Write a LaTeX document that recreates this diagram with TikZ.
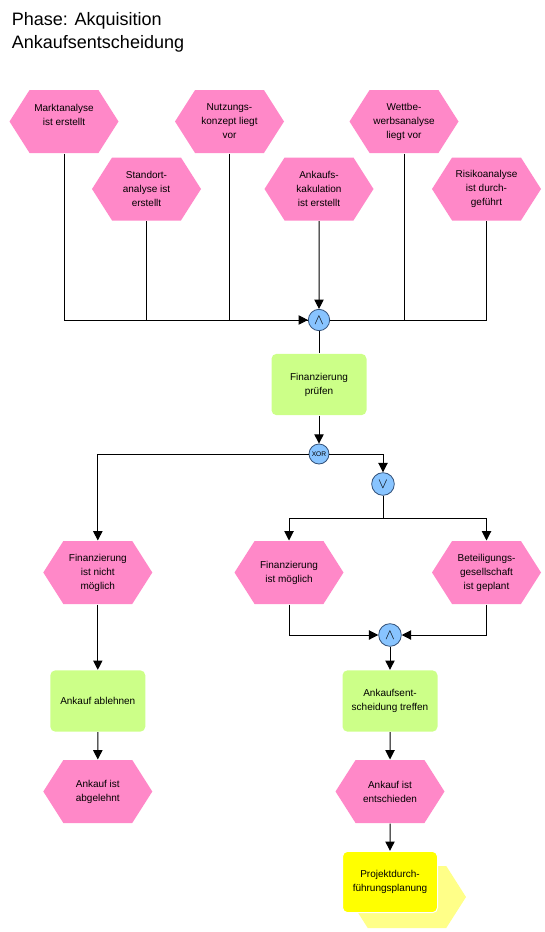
\documentclass[tikz,border=0pt]{standalone}
\usepackage{fontspec}
\setmainfont{Liberation Sans}
\usepackage{tikz}
\usetikzlibrary{positioning,shapes,arrows.meta}

\definecolor{eventpink}{RGB}{255,136,200}
\definecolor{funcgreen}{RGB}{204,255,136}
\definecolor{connblue}{RGB}{136,196,255}
\definecolor{connline}{RGB}{50,80,120}
\definecolor{procyellow}{RGB}{255,255,0}
\definecolor{procpale}{RGB}{255,255,136}

\begin{document}
\begin{tikzpicture}[->,>={Triangle[length=7pt,width=7pt]},x=0.75pt,y=-0.75pt,
          line width=0.75pt]
            \tikzstyle{event}=[signal, signal to=east and west, signal pointer angle=115,
                fill=eventpink, draw=none, minimum width=81.75pt, minimum height=47.25pt,
                inner sep=0pt, align=center, font=\fontsize{7.5}{10.5}\selectfont]
            \tikzstyle{func}=[rectangle, rounded corners=3.75pt, fill=funcgreen, draw=none,
                minimum width=71.25pt, minimum height=46pt, inner sep=0pt, align=center,
                font=\fontsize{7.5}{10.5}\selectfont]
            \tikzstyle{conn}=[circle, fill=connblue, draw=connline, line width=0.6pt,
                minimum size=16pt, inner sep=0pt, font=\fontsize{11}{11}\selectfont]
            \useasboundingbox (0,0) rectangle (545,932);
            % title
            \node[anchor=base west, font=\fontsize{13.5}{16}\selectfont] (phase) at (7,25) {Phase: Akquisition};
            \node[anchor=base west, font=\fontsize{13.5}{16}\selectfont] (title) at (7,48) {Ankaufsentscheidung};
            % start events
            \node[event] (markt) at (64,121.5) {Marktanalyse\\ist erstellt\\~};
            \node[event] (nutz) at (229.5,121.5) {Nutzungs-\\konzept liegt\\vor};
            \node[event] (wett) at (404,121.5) {Wettbe-\\werbsanalyse\\liegt vor};
            \node[event] (standort) at (146.5,189) {Standort-\\analyse ist\\erstellt};
            \node[event] (kalk) at (319,189) {Ankaufs-\\kakulation\\ist erstellt};
            \node[event] (risiko) at (486.5,189) {Risikoanalyse\\ist durch-\\geführt};
            \node[conn] (and1) at (319,320) {$\wedge$};
            \node[func] (fin) at (319,384.5) {Finanzierung\\prüfen};
            \node[conn, minimum size=15pt, font=\fontsize{5}{5}\selectfont] (xor) at (319,454) {XOR};
            \node[conn, minimum size=17pt] (or1) at (383,484) {$\vee$};
            \coordinate (split) at (383,518);
            % branches
            \node[event] (nicht) at (97.8,572.5) {Finanzierung\\ist nicht\\möglich};
            \node[event] (moeglich) at (289,572.5) {Finanzierung\\ist möglich};
            \node[event] (beteil) at (486.5,572.5) {Beteiligungs-\\gesellschaft\\ist geplant};
            \node[conn, minimum size=17pt] (and2) at (390,635) {$\wedge$};
            \node[func] (ablehnen) at (97.8,701) {Ankauf ablehnen};
            \node[func] (treffen) at (390,701) {Ankaufsent-\\scheidung treffen};
            \node[event] (abgelehnt) at (97.8,791.5) {Ankauf ist\\abgelehnt};
            \node[event] (entschieden) at (390,791.5) {Ankauf ist\\entschieden};
            \node[event, fill=procpale, minimum width=88.5pt, minimum height=46.5pt] (projhex) at (407,897) {};
            \node[func, fill=procyellow, draw=white, line width=0.75pt] (projekt) at (390,882) {Projektdurch-\\führungsplanung};
            % connections
            \draw (markt) |- (and1);
            \draw[-] (standort) |- (and1);
            \draw[-] (nutz) |- (and1);
            \draw[-] (wett) |- (and1);
            \draw[-] (risiko) |- (and1);
            \draw (kalk) -- (and1);
            \draw[-] (and1) -- (fin);
            \draw (fin) -- (xor);
            \draw (xor) -| (nicht);
            \draw (xor) -| (or1);
            \draw[-] (or1) -- (split);
            \draw (split) -| (moeglich);
            \draw (split) -| (beteil);
            \draw (moeglich) |- (and2);
            \draw (beteil) |- (and2);
            \draw (and2) -- (treffen);
            \draw (nicht) -- (ablehnen);
            \draw (ablehnen) -- (abgelehnt);
            \draw (treffen) -- (entschieden);
            \draw (entschieden) -- (projekt);
        \end{tikzpicture}
\end{document}
